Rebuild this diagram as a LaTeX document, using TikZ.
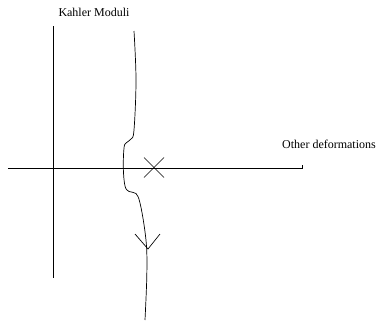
\documentclass[tikz,border=0pt]{standalone}
\usepackage{fontspec}
\setmainfont{Liberation Serif}
\usetikzlibrary{positioning, calc}
\tikzset{
    % Axis lines
    axis/.style={
        draw=black,
        line width=0.8pt
    },
    % Flow line
    flow/.style={
        draw=black,
        line width=0.7pt
    },
    % Axis labels
    axislabel/.style={
        inner sep=0pt,
        font=\fontsize{12}{14}\selectfont
    }
}
\begin{document}
\begin{tikzpicture}[x=1pt, y=-1pt]
    \useasboundingbox (0,0) rectangle (376,324);

    % Axes
    \coordinate (vtop) at (53,26);
    \coordinate (vbot) at (53,278);
    \coordinate (hleft) at (8,168);
    \coordinate (hright) at (302,168);
    \draw [axis] (vtop) -- (vbot);
    \draw [axis] (hleft) -- (hright) -- ++(0,-3);

    \node (kahler) [axislabel] at (94,12) {Kahler Moduli};
    \node (other) [axislabel] at (329,144) {Other deformations};

    % Flow of the moduli
    \draw [flow] plot [smooth, tension=0.6] coordinates {
        (134,31) (136,80) (134,130) (131,139) (126,143) (124,148)
        (123.3,168) (125,186) (129,191.5) (136,193.5) (140,203)
        (144.3,226.7) (146.7,250) (146.7,280) (145,320)};

    % Arrowhead on the flow
    \coordinate (tip) at (148,249);
    \draw [flow] (135,234) -- (tip) -- (160,234);

    % Singular point
    \coordinate (sing) at (154,167.5);
    \draw [flow] ($(sing)+(-10,-10)$) -- ($(sing)+(10,10)$);
    \draw [flow] ($(sing)+(-10,10)$) -- ($(sing)+(10,-10)$);
\end{tikzpicture}
\end{document}
